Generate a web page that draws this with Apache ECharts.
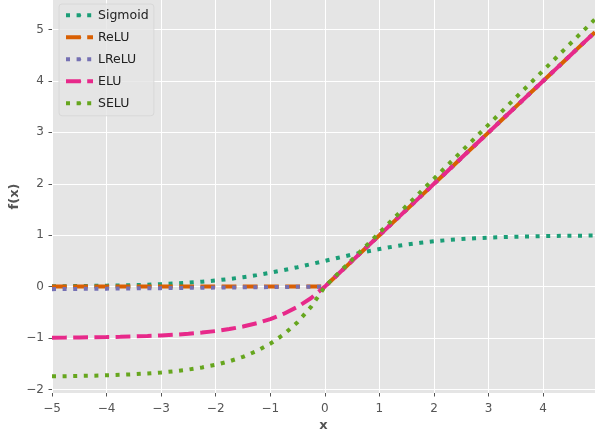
<!DOCTYPE html>
<html>
<head>
<meta charset="utf-8">
<script src="https://cdn.jsdelivr.net/npm/echarts@6/dist/echarts.min.js"></script>
<style>
  html, body { margin: 0; padding: 0; background: #fff; }
  #main { width: 595px; height: 436px; }
</style>
</head>
<body>
<div id="main"></div>
<script>
// x positions read along the horizontal axis
const xs = [-5, -4.75, -4.5, -4.25, -4, -3.75, -3.5, -3.25, -3, -2.75, -2.5, -2.25, -2, -1.75, -1.5, -1.25,
  -1, -0.75, -0.5, -0.25, 0, 0.25, 0.5, 0.75, 1, 1.25, 1.5, 1.75, 2, 2.25, 2.5, 2.75, 3, 3.25, 3.5, 3.75,
  4, 4.25, 4.5, 4.75, 4.95];

const sigmoid = [0.0067, 0.0086, 0.0110, 0.0141, 0.0180, 0.0230, 0.0293, 0.0373, 0.0474, 0.0601, 0.0759,
  0.0953, 0.1192, 0.1480, 0.1824, 0.2227, 0.2689, 0.3208, 0.3775, 0.4378, 0.5, 0.5622, 0.6225, 0.6792,
  0.7311, 0.7773, 0.8176, 0.8520, 0.8808, 0.9047, 0.9241, 0.9399, 0.9526, 0.9627, 0.9707, 0.9770, 0.9820,
  0.9859, 0.9890, 0.9914, 0.9930];

const relu = [0, 0, 0, 0, 0, 0, 0, 0, 0, 0, 0, 0, 0, 0, 0, 0, 0, 0, 0, 0, 0, 0.25, 0.5, 0.75, 1, 1.25, 1.5,
  1.75, 2, 2.25, 2.5, 2.75, 3, 3.25, 3.5, 3.75, 4, 4.25, 4.5, 4.75, 4.95];

const lrelu = [-0.05, -0.0475, -0.045, -0.0425, -0.04, -0.0375, -0.035, -0.0325, -0.03, -0.0275, -0.025,
  -0.0225, -0.02, -0.0175, -0.015, -0.0125, -0.01, -0.0075, -0.005, -0.0025, 0, 0.25, 0.5, 0.75, 1, 1.25,
  1.5, 1.75, 2, 2.25, 2.5, 2.75, 3, 3.25, 3.5, 3.75, 4, 4.25, 4.5, 4.75, 4.95];

const elu = [-0.9933, -0.9914, -0.9889, -0.9857, -0.9817, -0.9765, -0.9698, -0.9612, -0.9502, -0.9361,
  -0.9179, -0.8946, -0.8647, -0.8262, -0.7769, -0.7135, -0.6321, -0.5276, -0.3935, -0.2212, 0, 0.25, 0.5,
  0.75, 1, 1.25, 1.5, 1.75, 2, 2.25, 2.5, 2.75, 3, 3.25, 3.5, 3.75, 4, 4.25, 4.5, 4.75, 4.95];

const selu = [-1.7463, -1.7429, -1.7386, -1.7330, -1.7259, -1.7167, -1.7050, -1.6899, -1.6706, -1.6457,
  -1.6138, -1.5728, -1.5202, -1.4526, -1.3658, -1.2544, -1.1113, -0.9276, -0.6918, -0.3889, 0, 0.2627,
  0.5254, 0.7880, 1.0507, 1.3134, 1.5761, 1.8387, 2.1014, 2.3641, 2.6268, 2.8894, 3.1521, 3.4148, 3.6775,
  3.9401, 4.2028, 4.4655, 4.7282, 4.9908, 5.2010];

const seriesNames = ['Sigmoid', 'ReLU', 'LReLU', 'ELU', 'SELU'];
const seriesValues = [sigmoid, relu, lrelu, elu, selu];
const colors = ['#1b9e77', '#d95f02', '#7570b3', '#e7298a', '#66a61e'];

const xTicks = [-5, -4, -3, -2, -1, 0, 1, 2, 3, 4];
const yTicks = [-2, -1, 0, 1, 2, 3, 4, 5];

const DOTTED = [4, 6.6];
const DASHED = [14.8, 6.4];
const dashes = [DOTTED, DASHED, DOTTED, DASHED, DOTTED];

const minus = v => String(v).replace('-', '\u2212');
const FONT = 'DejaVu Sans';

const chart = echarts.init(document.getElementById('main'), null, { renderer: 'canvas' });

const option = {
  animation: false,
  textStyle: { fontFamily: FONT },
  grid: {
    left: 52, right: 0, top: 0, bottom: 43,
    containLabel: false,
    outerBoundsMode: 'none',
    show: true, backgroundColor: '#E5E5E5', borderWidth: 0
  },
  legend: {
    orient: 'vertical',
    left: 59, top: 4,
    padding: [4.75, 5.3, 6, 5],
    itemWidth: 27, itemHeight: 4,
    itemGap: 9,
    itemTextGap: 9.5,
    backgroundColor: 'rgba(229,229,229,0.8)',
    borderColor: '#d8d8d8', borderWidth: 1, borderRadius: 3,
    lineStyle: { width: 4, cap: 'butt' },
    textStyle: { fontFamily: FONT, fontSize: 12.5, color: '#222' },
    data: seriesNames
  },
  xAxis: {
    type: 'value',
    min: -5, max: 4.95,
    name: 'x', nameLocation: 'middle', nameGap: 26.5, nameMoveOverlap: false,
    nameTextStyle: { fontFamily: FONT, fontSize: 13, fontWeight: 'bold', color: '#555' },
    axisLine: { show: true, onZero: false, lineStyle: { color: '#fff', width: 1 } },
    axisTick: { show: true, length: 3.5, lineStyle: { color: '#555' }, customValues: xTicks },
    axisLabel: { margin: 9.5, fontSize: 12, color: '#555', formatter: minus, customValues: xTicks },
    splitLine: { show: true, lineStyle: { color: '#fff', width: 1 } }
  },
  yAxis: {
    type: 'value',
    min: -2.07, max: 5.575,
    name: 'f(x)', nameLocation: 'middle', nameGap: 30.5, nameRotate: 90, nameMoveOverlap: false,
    nameTextStyle: { fontFamily: FONT, fontSize: 13, fontWeight: 'bold', color: '#555' },
    axisLine: { show: true, onZero: false, lineStyle: { color: '#fff', width: 1 } },
    axisTick: { show: true, length: 3.5, lineStyle: { color: '#555' }, customValues: yTicks },
    axisLabel: { margin: 8, fontSize: 12, color: '#555', formatter: minus, customValues: yTicks },
    splitLine: { show: true, lineStyle: { color: '#fff', width: 1 } }
  },
  series: seriesNames.map((name, i) => ({
    name: name,
    type: 'line',
    data: xs.map((x, j) => [x, seriesValues[i][j]]),
    showSymbol: false,
    symbol: 'none',
    color: colors[i],
    lineStyle: { color: colors[i], width: 4, type: dashes[i], cap: 'butt' }
  }))
};

chart.setOption(option);
</script>
</body>
</html>
